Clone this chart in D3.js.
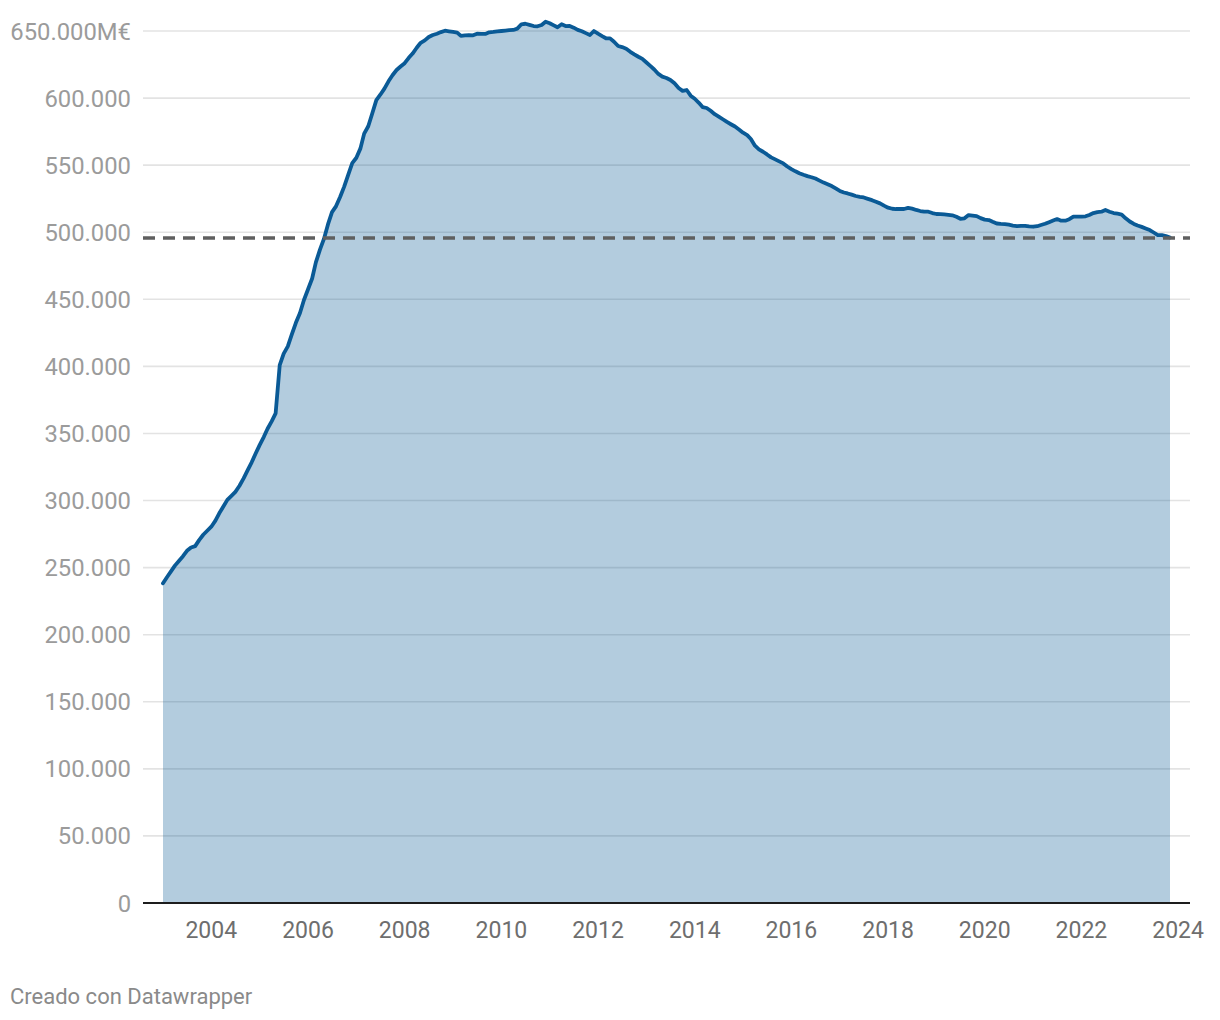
<!DOCTYPE html>
<html>
<head>
  <meta charset="UTF-8">
  <title>Saldo mensual</title>
  <style>
    body {
      margin: 0;
      background: #fff;
      font-family: "Roboto", helvetica, arial, sans-serif;
    }
    svg { display: block; }
  </style>
</head>
<body>
<svg></svg>
<script src="https://d3js.org/d3.v7.min.js"></script>
<script>

// monthly series, Jan 2003 .. Nov 2023, thousands of M€
let startMonth = new Date(2003, 0, 1);
let values = [
  238.3, 243.0, 247.0, 251.5, 255.0, 258.5, 262.5, 265.0, 266.0, 270.5, 274.5, 277.5,
  280.5, 285.0, 290.5, 295.5, 300.5, 303.5, 306.5, 311.0, 316.5, 322.5, 328.5, 335.0,
  341.5, 347.5, 353.5, 359.0, 365.0, 401.0, 409.5, 414.9, 424.0, 432.5, 439.8, 449.5,
  457.5, 465.5, 477.5, 487.0, 495.0, 506.0, 515.0, 519.5, 526.5, 534.0, 543.0, 551.5,
  555.5, 562.5, 573.5, 579.0, 588.5, 598.5, 602.5, 607.0, 612.5, 617.0, 620.9, 623.5,
  626.0, 630.0, 633.2, 637.5, 641.2, 643.0, 645.5, 647.0, 648.0, 649.2, 650.2, 649.8,
  649.3, 648.8, 646.3, 646.8, 647.0, 646.8, 648.0, 647.8, 647.8, 649.0, 649.3, 649.7,
  650.0, 650.3, 650.6, 650.8, 651.8, 655.0, 655.4, 654.6, 653.7, 653.5, 654.5, 656.9,
  655.8, 654.2, 652.8, 655.0, 653.7, 653.8, 652.5, 650.8, 649.8, 648.4, 647.0, 650.0,
  648.0, 646.2, 644.6, 644.5, 642.0, 638.8, 638.0, 636.8, 634.5, 632.6, 630.8, 629.2,
  626.5, 623.8, 621.3, 618.0, 616.0, 615.0, 613.5, 611.0, 607.5, 605.4, 606.0, 601.8,
  599.5, 596.5, 593.3, 592.6, 590.5, 588.0, 586.2, 584.2, 582.2, 580.5, 578.8, 576.6,
  574.2, 572.4, 569.5, 564.5, 561.8, 560.0, 558.0, 555.8, 554.3, 552.8, 551.3, 549.0,
  547.0, 545.4, 544.0, 542.8, 541.8, 541.0, 540.0, 538.5, 537.0, 535.8, 534.4, 532.6,
  530.8, 529.6, 528.9, 528.0, 527.0, 526.4, 525.9, 524.9, 523.9, 522.7, 521.5, 519.8,
  518.3, 517.5, 517.3, 517.3, 517.3, 518.2, 517.6, 516.6, 515.8, 515.3, 515.3, 514.3,
  513.6, 513.5, 513.3, 513.0, 512.6, 511.5, 510.0, 510.4, 512.8, 512.4, 512.0, 510.5,
  509.4, 509.1, 507.8, 506.5, 506.2, 506.0, 505.6, 505.0, 504.6, 504.8, 504.8, 504.4,
  504.1, 504.5, 505.4, 506.3, 507.5, 508.7, 509.8, 508.6, 508.6, 509.7, 511.6, 511.6,
  511.6, 511.9, 512.9, 514.3, 515.0, 515.3, 516.6, 515.3, 514.3, 513.8, 513.2, 510.4,
  508.0, 506.2, 505.0, 504.0, 502.8, 501.6, 499.8, 497.9, 497.9, 497.2, 496.1
];

// reference level (dashed line)
let refValue = 495.7;

let yTicks = [0, 50, 100, 150, 200, 250, 300, 350, 400, 450, 500, 550, 600, 650];
let xTicks = [2004, 2006, 2008, 2010, 2012, 2014, 2016, 2018, 2020, 2022, 2024];

let width = 1220, height = 1020;
let plotLeft = 143, plotRight = 1190, plotTop = 31, plotBottom = 903;
let lineColor = "#0a5a96";

let svg = d3.select("svg")
    .attr("width", width)
    .attr("height", height);

let data = values.map((v, i) => ({ date: d3.timeMonth.offset(startMonth, i), value: v }));

let x = d3.scaleTime()
    .domain([data[0].date, data[data.length - 1].date])
    .range([163, 1170]);

let y = d3.scaleLinear()
    .domain([0, 650])
    .range([plotBottom, plotTop]);

// gridlines
svg.append("g")
    .selectAll("line")
    .data(yTicks.filter(d => d > 0))
    .enter()
    .append("line")
    .attr("x1", plotLeft)
    .attr("x2", plotRight)
    .attr("y1", d => y(d))
    .attr("y2", d => y(d))
    .attr("stroke", "#e3e3e3")
    .attr("stroke-width", 1.6);

// y labels
let fmt = d3.formatLocale({ decimal: ",", thousands: ".", grouping: [3] }).format(",d");
svg.append("g")
    .selectAll("text")
    .data(yTicks)
    .enter()
    .append("text")
    .attr("x", 131)
    .attr("y", d => y(d) + 8.5)
    .attr("text-anchor", "end")
    .attr("font-size", 23.8)
    .attr("fill", "#9b9b9b")
    .text(d => fmt(d * 1000) + (d == 650 ? "M€" : ""));

// area + line
let area = d3.area()
    .x(d => x(d.date))
    .y0(y(0))
    .y1(d => y(d.value));

let line = d3.line()
    .x(d => x(d.date))
    .y(d => y(d.value));

svg.append("path")
    .datum(data)
    .attr("d", area)
    .attr("fill", lineColor)
    .attr("fill-opacity", 0.31);

svg.append("path")
    .datum(data)
    .attr("d", line)
    .attr("fill", "none")
    .attr("stroke", lineColor)
    .attr("stroke-width", 3.8)
    .attr("stroke-linejoin", "round")
    .attr("stroke-linecap", "round");

// dashed reference line
svg.append("line")
    .attr("x1", plotLeft)
    .attr("x2", plotRight)
    .attr("y1", y(refValue))
    .attr("y2", y(refValue))
    .attr("stroke", "#5f5f5f")
    .attr("stroke-width", 3.5)
    .attr("stroke-dasharray", "12,8");

// baseline
svg.append("line")
    .attr("x1", plotLeft)
    .attr("x2", plotRight)
    .attr("y1", y(0))
    .attr("y2", y(0))
    .attr("stroke", "#1d1d1d")
    .attr("stroke-width", 2);

// x labels
svg.append("g")
    .selectAll("text")
    .data(xTicks)
    .enter()
    .append("text")
    .attr("x", d => x(new Date(d, 0, 1)))
    .attr("y", 938)
    .attr("text-anchor", "middle")
    .attr("font-size", 23)
    .attr("fill", "#6e6e6e")
    .text(d => d);

// footer
svg.append("text")
    .attr("x", 10)
    .attr("y", 1004)
    .attr("font-size", 22)
    .attr("fill", "#8a8a8a")
    .text("Creado con Datawrapper");

</script>
</body>
</html>
